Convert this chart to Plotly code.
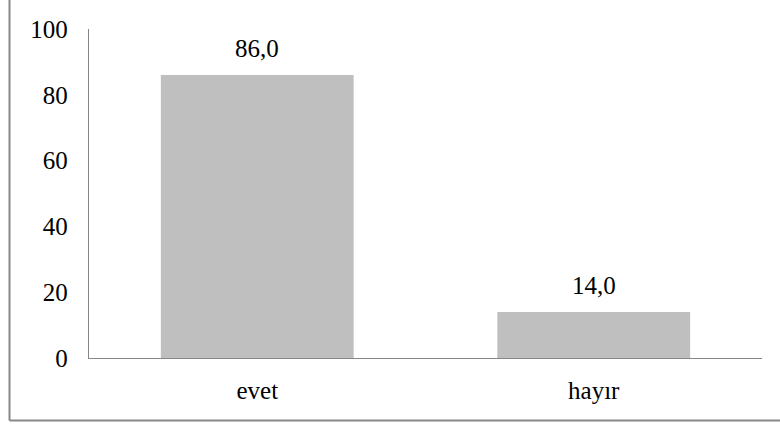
import plotly.graph_objects as go

categories = ["evet", "hayır"]
values = [86.0, 14.0]
y_ticks = [0, 20, 40, 60, 80, 100]

W, H = 780, 425
L, R, T, B = 89, 18, 29, 67
pw, ph = W - L - R, H - T - B


def px_x(x):
    return (x - L) / pw


def px_y(y):
    return (H - B - y) / ph


FONT = dict(family="Liberation Serif, Times New Roman, serif", size=25, color="#000000")

fig = go.Figure(
    go.Bar(
        x=categories,
        y=values,
        marker=dict(color="#BFBFBF", line=dict(width=0)),
        hoverinfo="skip",
    )
)

# value labels above each bar
for c, v in zip(categories, values):
    fig.add_annotation(
        x=c, y=v, xref="x", yref="y",
        text=f"{v:.1f}".replace(".", ","),
        showarrow=False, yanchor="bottom", yshift=11,
        font=FONT,
    )

fig.update_layout(
    width=W,
    height=H,
    margin=dict(l=L, r=R, t=T, b=B, pad=0),
    paper_bgcolor="white",
    plot_bgcolor="white",
    bargap=0.427,
    showlegend=False,
    font=FONT,
    shapes=[
        # outer frame: left and bottom edges
        dict(type="line", xref="paper", yref="paper",
             x0=px_x(9.5), x1=px_x(780), y0=px_y(420.5), y1=px_y(420.5),
             line=dict(color="#878787", width=2)),
        dict(type="line", xref="paper", yref="paper",
             x0=px_x(9.5), x1=px_x(9.5), y0=px_y(420.5), y1=px_y(0),
             line=dict(color="#878787", width=2)),
    ],
)

fig.update_xaxes(
    showline=True, linecolor="#868686", linewidth=1.3,
    ticks="", showgrid=False, zeroline=False,
    tickfont=FONT, ticklabelstandoff=10,
)
fig.update_yaxes(
    range=[0, 100], tickvals=y_ticks,
    showline=True, linecolor="#868686", linewidth=1.3,
    ticks="", showgrid=False, zeroline=False,
    tickfont=FONT, ticklabelstandoff=15,
)

fig.write_html("out.html")
